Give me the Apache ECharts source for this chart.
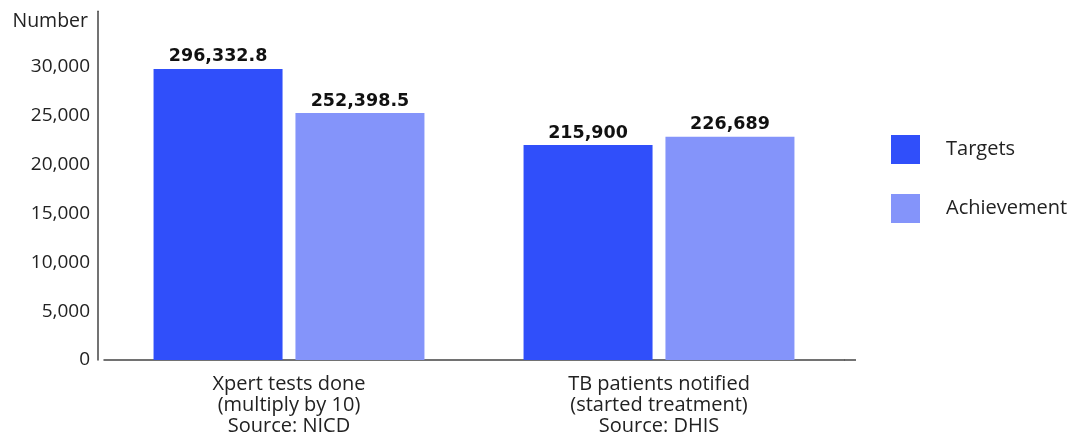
<!DOCTYPE html>
<html>
<head>
<meta charset="utf-8">
<script src="https://cdn.jsdelivr.net/npm/echarts@6/dist/echarts.min.js"></script>
<style>
html,body{margin:0;padding:0;background:#fff;}
#chart{width:1076px;height:437px;}
</style>
</head>
<body>
<div id="chart"></div>
<script>
var categories = ['Xpert tests done\n(multiply by 10)\nSource: NICD', 'TB patients notified\n(started treatment)\nSource: DHIS'];
var seriesNames = ['Targets', 'Achievement'];
var targets = [29800, 22010];
var achievement = [25290, 22860];
var targetLabels = ['296,332.8', '215,900'];
var achievementLabels = ['252,398.5', '226,689'];
var yTicks = [0, 5000, 10000, 15000, 20000, 25000, 30000];

var colors = ['#304ffa', '#8494fa'];
var chart = echarts.init(document.getElementById('chart'));

function labelCfg(texts) {
  return {
    show: true, position: 'top', distance: 3,
    fontFamily: 'DejaVu Sans', fontWeight: 'bold', fontSize: 17.5, color: '#111',
    formatter: function (p) { return texts[p.dataIndex]; }
  };
}

chart.setOption({
  animation: false,
  color: colors,
  grid: { left: 104, right: 232, top: 11.3, bottom: 77, containLabel: false },
  legend: {
    orient: 'vertical', left: 891, top: 135, padding: 0,
    itemWidth: 29, itemHeight: 29, itemGap: 30,
    icon: 'rect',
    textStyle: { fontFamily: 'Open Sans', fontSize: 20, color: '#222', padding: [5, 0, 0, 21] },
    data: seriesNames
  },
  xAxis: {
    type: 'category', data: categories,
    axisLine: { lineStyle: { color: '#444', width: 1.5 } },
    axisTick: { show: false },
    axisLabel: { fontFamily: 'Open Sans', fontSize: 20, color: '#222', lineHeight: 21, margin: 14 }
  },
  yAxis: {
    type: 'value', min: 0, max: 35700, interval: 5000, offset: 6,
    name: 'Number', nameLocation: 'end', nameGap: -10,
    nameTextStyle: { fontFamily: 'Open Sans', fontSize: 19.5, color: '#222', align: 'right', verticalAlign: 'middle', padding: [0, 10, 0, 0] },
    axisLine: { show: true, lineStyle: { color: '#444', width: 1.5 } },
    axisTick: { show: false },
    splitLine: { show: false },
    axisLabel: {
      fontFamily: 'Open Sans', fontSize: 19, color: '#222', margin: 8,
      formatter: function (v) { return yTicks.indexOf(v) >= 0 ? v.toLocaleString('en-US') : ''; }
    }
  },
  series: [
    { name: seriesNames[0], type: 'bar', data: targets, barWidth: 129, barGap: '10%', label: labelCfg(targetLabels) },
    { name: seriesNames[1], type: 'bar', data: achievement, barWidth: 129, label: labelCfg(achievementLabels) }
  ],
  graphic: [
    { type: 'line', shape: { x1: 844, y1: 360, x2: 856, y2: 360 }, style: { stroke: '#444', lineWidth: 1.5 } }
  ]
});
</script>
</body>
</html>
